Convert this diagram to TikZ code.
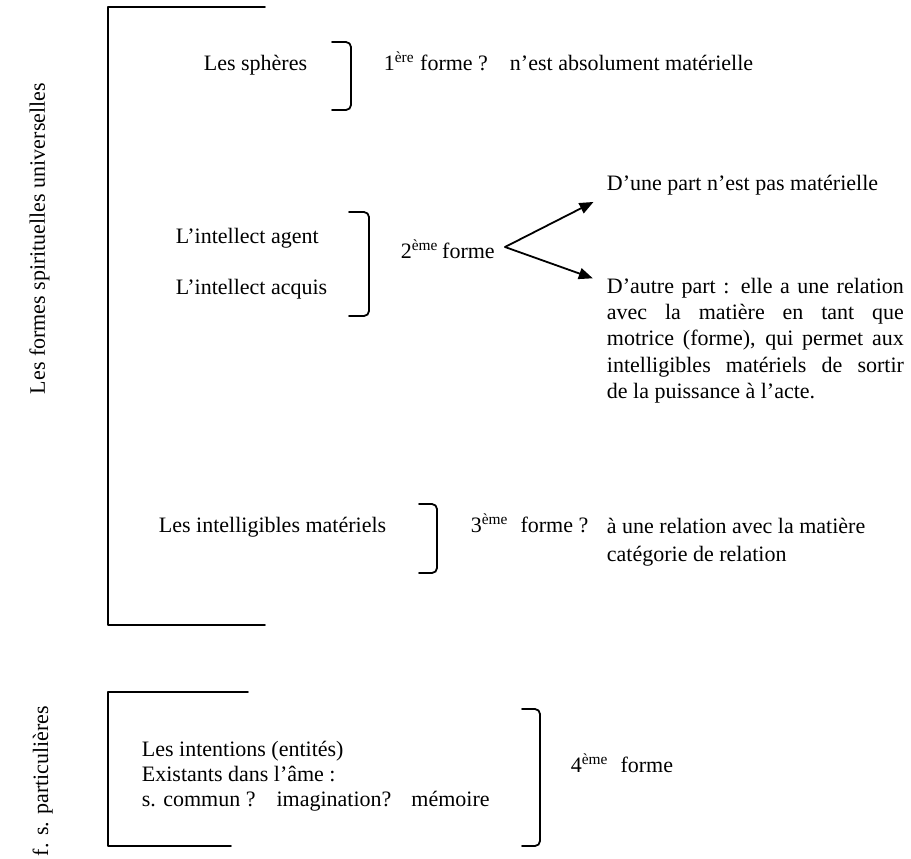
\documentclass[tikz,border=0pt]{standalone}
\usepackage{fontspec}
\setmainfont{Liberation Serif}
\usepackage{tikz}
\usetikzlibrary{arrows.meta}

\begin{document}
\fontsize{11pt}{13.2pt}\selectfont
\begin{tikzpicture}[line cap=round,line join=round,x=0.5pt,y=-0.5pt,
        line width=0.9pt,
        >={Triangle[length=7pt,width=5.6pt]},
        txt/.style={anchor=base west,inner sep=0pt},
        bloc/.style={anchor=north west,inner sep=0pt,align=left},
        crochet/.style={rounded corners=2.5pt},
        fleche/.style={->,shorten >=7pt}]
        \useasboundingbox (0,0) rectangle (911,858);

        \node[txt,rotate=90] (univ) at (45,395) {Les formes spirituelles universelles};
        \node[txt,rotate=90] (partic) at (48,857) {f. s. particulières};

        \draw (265,7) -| (108,625) -- (265,625);
        \draw (248,692) -| (108,846) -- (231,846);

        \node[txt] (spheres) at (203,70) {Les sphères};
        \draw[crochet] (332,42) -| (351,110) -- (332,110);
        \node[txt] (f1) at (383,70) {1\textsuperscript{ère} forme ?\hspace{11pt}n’est absolument matérielle};

        \node[txt] (agent) at (175,243) {L’intellect agent};
        \node[txt] (acquis) at (175,294) {L’intellect acquis};
        \draw[crochet] (349,212) -| (369,316) -- (349,316);
        \node[txt] (f2) at (400,258) {2\textsuperscript{ème}\,forme};

        \node[txt] (p1) at (606,190) {D’une part n’est pas matérielle};
        \node[bloc,text width=148.5pt,align=justify] (p2) at (606,277)
            {D’autre part : elle a une relation\linebreak avec la matière en tant que\linebreak
             motrice (forme), qui permet aux\linebreak intelligibles matériels de sortir\linebreak
             de la puissance à l’acte.};

        \coordinate (fork) at (505,247);
        \draw[fleche] (fork) -- (p1.south west);
        \draw[fleche] (fork) -- ([yshift=-3pt]p2.north west);

        \node[txt] (intel) at (158,532) {Les intelligibles matériels};
        \draw[crochet] (419,504) -| (437,573) -- (419,573);
        \node[txt] (f3) at (470,532) {3\textsuperscript{ème}\hspace{6pt}forme ?};
        \node[bloc] (r3) at (606,517) {à une relation avec la matière\\[0.8pt] catégorie de relation};

        \node[bloc] (intent) at (141,740) {Les intentions (entités)\\[-0.7pt]
            Existants dans l’âme :\\[-0.7pt]
            s. commun ?\hspace{10.5pt}imagination?\hspace{10pt}mémoire};
        \draw[crochet] (522,709) -| (540,846) -- (522,846);
        \node[txt] (f4) at (570,772) {4\textsuperscript{ème}\hspace{6pt}forme};
\end{tikzpicture}
\end{document}
